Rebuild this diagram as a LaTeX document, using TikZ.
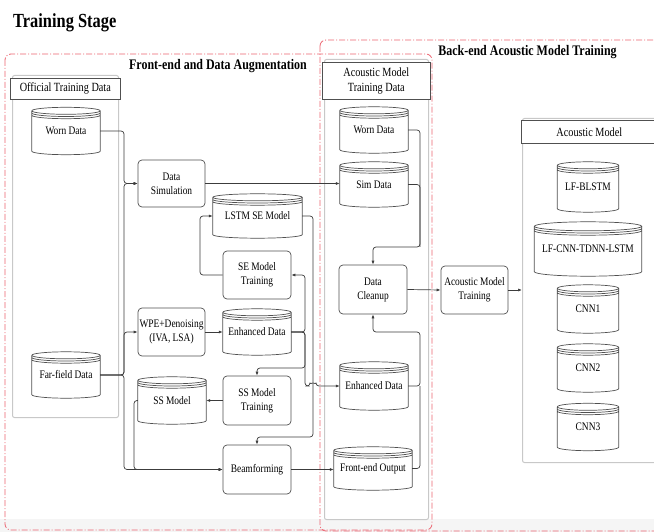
\documentclass[tikz,border=0pt]{standalone}
\usepackage{fontspec}
\setmainfont{Liberation Serif}[FakeStretch=0.82]
\usetikzlibrary{arrows.meta,calc}

\definecolor{redbox}{RGB}{236,100,112}
\definecolor{conncol}{RGB}{60,60,60}
\definecolor{panelgray}{RGB}{200,200,200}
\definecolor{boxcol}{RGB}{80,80,80}

\newcommand\bodyfont{\fontsize{11.5}{14}\selectfont}
\newcommand\hdrfont{\fontsize{12.5}{15}\selectfont}
\newcommand\secfont{\fontsize{14.6}{17}\selectfont\bfseries}
\newcommand\ttlfont{\fontsize{20}{24}\selectfont\bfseries}

\tikzset{
 conn/.style={draw=conncol, line width=0.7pt, rounded corners=3pt, -{Latex[length=4pt,width=3pt]}},
 plainconn/.style={draw=conncol, line width=0.7pt, rounded corners=3pt},
 proc/.style={draw=boxcol, line width=0.7pt, rounded corners=4pt, align=center, inner sep=1pt, font=\bodyfont},
 dbnode/.style={inner sep=0pt, align=center, font=\bodyfont},
 dbline/.style={draw=boxcol, line width=0.7pt},
 hdr/.style={draw=boxcol, line width=0.6pt, fill=white, align=center, font=\hdrfont, inner sep=0pt},
 panel/.style={draw=panelgray, line width=1pt, rounded corners=2pt, inner sep=0pt},
 stagebox/.style={draw=redbox, line width=0.8pt, rounded corners=6pt, dash pattern=on 6pt off 2pt on 1pt off 2pt},
}

% cylinder outline around a node: #1 = y radius, #2 = node name
\newcommand\dbdraw[2][3.5pt]{%
 \draw[dbline] let \p1=(#2.north west), \p2=(#2.south east), \n1={0.5*(\x2-\x1)} in
  (\x1,{\y1-#1}) arc[start angle=180,end angle=-180,x radius=\n1,y radius=#1]
  (\x1,{\y1-#1-2.2pt}) arc[start angle=180,end angle=360,x radius=\n1,y radius=#1]
  (\x1,{\y1-#1-4.4pt}) arc[start angle=180,end angle=360,x radius=\n1,y radius=#1]
  (\x1,{\y1-#1}) -- (\x1,{\y2+#1}) arc[start angle=180,end angle=360,x radius=\n1,y radius=#1] -- (\x2,{\y1-#1});
}

\begin{document}
\begin{tikzpicture}[x=1pt,y=-1pt]
\clip (0,0) rectangle (654,532);
\fill[white] (0,0) rectangle (654,532);
\fill[black!4] (0,519) rectangle (654,532);

% titles
\node[anchor=base west, inner sep=0pt, font=\ttlfont] (title) at (13,28) {Training Stage};
\node[anchor=base, inner sep=0pt, font=\secfont] (fetitle) at (218,70) {Front-end and Data Augmentation};
\node[anchor=base, inner sep=0pt, font=\secfont] (betitle) at (527.5,56) {Back-end Acoustic Model Training};

% stage boxes
\draw[stagebox] (5,54) rectangle (432,530);
\draw[stagebox] (320,40) rectangle (690,531);

% panels
\node[panel, anchor=north west, minimum width=106, minimum height=342] (otdPanel) at (12,75) {};
\node[hdr, anchor=north west, minimum width=110, minimum height=21] (otdHdr) at (10,78) {Official Training Data};
\node[panel, anchor=north west, minimum width=104, minimum height=460] (amtdPanel) at (324,59) {};
\node[hdr, anchor=north west, minimum width=108, minimum height=37] (amtdHdr) at (322,62) {Acoustic Model\\Training Data};
\node[panel, anchor=north west, minimum width=136, minimum height=344] (amPanel) at (522,118) {};
\node[hdr, anchor=north west, minimum width=136, minimum height=23] (amHdr) at (521,120) {Acoustic Model};

% cylinders
\node[dbnode, minimum width=68, minimum height=47] (wornL) at (66,131) {Worn Data};
\node[dbnode, minimum width=68, minimum height=46] (farL) at (66,375) {Far-field Data};
\node[dbnode, minimum width=89, minimum height=44] (lstm) at (257.5,216) {LSTM SE Model};
\node[dbnode, minimum width=68, minimum height=46] (enhM) at (257,332) {Enhanced Data};
\node[dbnode, minimum width=68, minimum height=47] (ssm) at (172,400.5) {SS Model};
\node[dbnode, minimum width=68, minimum height=46] (wornR) at (374,130) {Worn Data};
\node[dbnode, minimum width=68, minimum height=45] (simD) at (374,184.5) {Sim Data};
\node[dbnode, minimum width=68, minimum height=48] (enhR) at (374,386) {Enhanced Data};
\node[dbnode, minimum width=78, minimum height=43] (feOut) at (373,468.5) {Front-end Output};
\node[dbnode, minimum width=61, minimum height=50] (lfb) at (588,187) {LF-BLSTM};
\node[dbnode, minimum width=107, minimum height=54] (lfc) at (588,249) {LF-CNN-TDNN-LSTM};
\node[dbnode, minimum width=61, minimum height=48] (cnn1) at (588,309) {CNN1};
\node[dbnode, minimum width=61, minimum height=48] (cnn2) at (588,368) {CNN2};
\node[dbnode, minimum width=61, minimum height=47] (cnn3) at (588,427) {CNN3};
\foreach \nm in {wornL,farL,lstm,enhM,ssm,wornR,simD,enhR,feOut,lfb,cnn1,cnn2,cnn3} {\dbdraw{\nm}}
\dbdraw[4.5pt]{lfc}

% process boxes
\node[proc, minimum width=67, minimum height=47] (dsim) at (171.5,183.5) {Data\\Simulation};
\node[proc, minimum width=67, minimum height=48] (wpe) at (171.5,332) {WPE+Denoising\\(IVA, LSA)};
\node[proc, minimum width=68, minimum height=48] (seT) at (257,275) {SE Model\\Training};
\node[proc, minimum width=68, minimum height=49] (ssT) at (257,400.5) {SS Model\\Training};
\node[proc, minimum width=68, minimum height=49] (beam) at (257,469.5) {Beamforming};
\node[proc, minimum width=68, minimum height=49] (clean) at (373,289.5) {Data\\Cleanup};
\node[proc, minimum width=67, minimum height=48] (amt) at (474.5,290) {Acoustic Model\\Training};

% connectors: left trunk
\draw[conn] (wornL.east) -- (124,131) -- (124,183.5) -- (dsim.west);
\draw[conn] (farL.east) -- (124,375) -- (124,183.5) -- (dsim.west);
\draw[conn] (farL.east) -- (124,375) -- (124,332) -- (wpe.west);
\draw[conn] (farL.east) -- (124,375) -- (124,469.5) -- (beam.west);
\draw[conn] (ssm.west) -- (134,400.5) -- (134,469.5) -- (beam.west);

\draw[conn] (dsim.east) -- (dsim.east -| simD.west);
\draw[conn] (wpe.east) -- (enhM.west);
\draw[conn] (seT.west) -- (200,275) -- (200,216) -- (lstm.west);
\draw[conn] (lstm.east) -- (313,216) -- (313,437) -| (beam.north);
\draw[conn] (enhM.east) -- (305,332) |- (seT.east);
\draw[conn] (enhM.east) -- (305,332) -- (305,368) -| (ssT.north);
\draw[conn] (enhM.east) -- (305,332) -- (305,386) -- (310,386) arc[start angle=180,end angle=0,radius=3pt] -- (enhR.west);
\draw[conn] (ssT.west) -- (ssm.east);
\draw[conn] (beam.east) -- (beam.east -| feOut.west);

% connectors: right column
\draw[conn] (wornR.east) -- (420,130) -- (420,247) -| (clean.north);
\draw[plainconn] (simD.east) -- (420,184.5) -- (420,247);
\draw[conn] (enhR.east) -- (420,386) -- (420,332) -| (clean.south);
\draw[plainconn] (feOut.east) -- (420,468.5) -- (420,386);
\draw[conn] (clean.east) -- (amt.west);
\draw[conn] (amt.east) -- (amt.east -| amPanel.west);
\end{tikzpicture}
\end{document}
